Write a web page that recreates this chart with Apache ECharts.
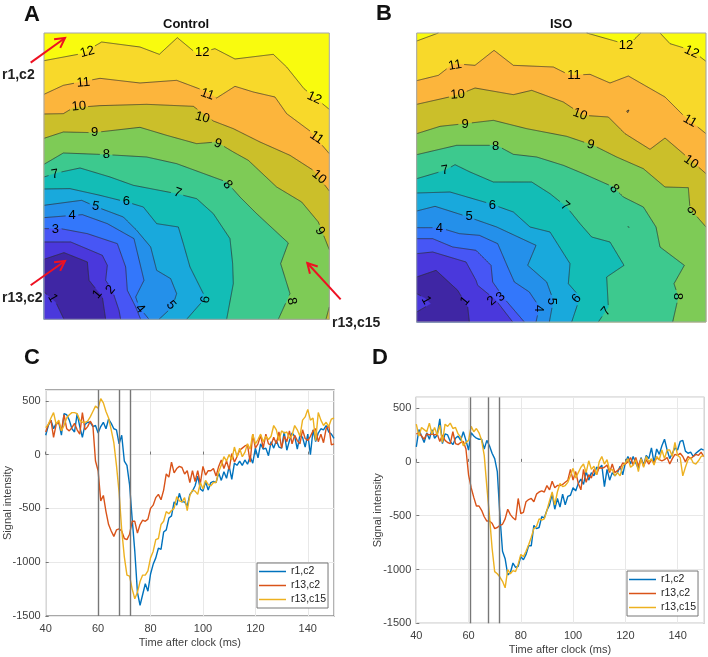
<!DOCTYPE html>
<html><head><meta charset="utf-8">
<script src="https://cdn.jsdelivr.net/npm/echarts@6/dist/echarts.min.js"></script>
<style>html,body{margin:0;padding:0;background:#fff}#c{width:708px;height:657px}</style>
</head><body><div id="c"></div>
<script>
// ---------- Contour panel A (Control), coordinates are read-off positions on the map
const controlL12=[[132,181],[245,160],[305,125],[420,140],[478,162],[532,112],[590,160],[645,145],[705,176],[820,162],[860,200],[912,265],[988,327]];
const controlL11=[[132,282],[190,255],[300,234],[420,248],[530,240],[610,270],[650,293],[705,258],[760,275],[825,290],[860,340],[930,392],[988,460]];
const controlL10=[[132,341],[190,340],[220,322],[300,316],[440,312],[580,318],[640,362],[700,385],[780,425],[870,465],[940,510],[988,572]];
const controlL9=[[132,414],[190,395],[280,397],[420,381],[500,405],[590,430],[650,425],[700,455],[745,480],[830,560],[905,605],[955,665],[988,748],[988,920],[978,957]];
const controlL8=[[132,492],[190,458],[320,463],[440,470],[530,490],[680,545],[720,590],[770,640],[865,728],[842,790],[870,880],[835,957]];
const controlL7=[[132,530],[170,518],[240,503],[330,530],[400,555],[530,580],[590,595],[640,640],[690,715],[698,790],[700,850],[680,957]];
const controlL6=[[132,566],[210,565],[300,585],[380,605],[430,620],[470,670],[535,680],[550,730],[570,800],[610,880],[610,900],[560,957]];
const controlL5=[[132,615],[245,600],[290,620],[370,650],[410,690],[452,740],[470,810],[512,835],[530,880],[517,920],[477,957]];
const controlL4=[[132,652],[247,643],[322,670],[402,715],[432,840],[407,890],[417,920],[447,957]];
const controlL3=[[132,685],[182,685],[262,700],[352,730],[377,800],[382,870],[407,920],[422,957]];
const controlL2=[[132,725],[212,725],[307,765],[322,795],[317,840],[337,870],[357,930],[362,957]];
const controlL1=[[132,777],[192,757],[262,785],[267,840],[307,890],[317,957],[192,957],[167,905],[132,875]];
const controlLabels=[[12,262,155,15],[12,607,155,0],[12,943,293,-25],[11,250,247,5],[11,622,282,-20],[11,950,412,-35],[10,237,318,5],[10,607,352,-15],[10,957,530,-40],[9,284,397,0],[9,654,430,-20],[9,960,692,-60],[8,319,463,0],[8,683,553,-50],[8,875,903,-80],[7,165,522,10],[7,533,578,-20],[6,379,604,0],[6,617,898,80],[5,287,618,-10],[5,513,915,-50],[4,216,645,0],[4,420,925,-50],[3,166,687,0],[2,332,868,50],[1,158,893,-60],[1,292,882,50]];
// ---------- Contour panel B (ISO)
const isoL12=[[200,122],[265,98],[710,98],[805,125],[845,125],[872,98],[930,98],[960,130],[1025,150],[1068,183]];
const isoL11=[[200,241],[265,225],[310,190],[375,195],[432,150],[490,195],[610,200],[660,225],[720,222],[780,248],[835,227],[945,290],[1000,345],[1068,400]];
const isoL10=[[200,312],[320,285],[375,263],[490,283],[545,270],[640,305],[700,345],[775,350],[825,400],[900,447],[945,413],[1000,460],[1068,520]];
const isoL9=[[200,400],[270,378],[345,370],[430,360],[530,385],[650,408],[730,435],[800,470],[880,505],[945,560],[1015,562],[1020,625],[1068,680]];
const isoL8=[[200,463],[320,435],[440,435],[490,462],[560,470],[640,495],[700,520],[790,560],[820,590],[880,620],[918,680],[930,740],[1003,795],[972,850],[985,890],[968,965]];
const isoL7=[[200,535],[285,510],[315,493],[360,515],[430,545],[545,545],[600,580],[650,620],[690,670],[725,710],[780,725],[822,795],[770,830],[775,920],[745,965]];
const isoL6=[[200,578],[300,575],[420,610],[490,635],[540,680],[600,695],[660,790],[655,850],[690,890],[665,965]];
const isoL5=[[200,632],[255,618],[340,645],[440,680],[558,735],[533,795],[590,845],[610,900],[598,965]];
const isoL4=[[200,682],[268,682],[328,700],[388,705],[443,730],[473,800],[493,845],[538,875],[568,920],[558,965]];
const isoL3=[[200,715],[248,715],[308,740],[378,750],[423,795],[428,845],[463,895],[523,965]];
const isoL2=[[200,760],[248,755],[348,785],[378,840],[383,855],[438,900],[488,965]];
const isoL1=[[200,830],[258,810],[323,870],[353,920],[358,965],[200,965],[200,935],[243,910],[225,893],[200,880]];
const isoSpotA=[[830,332],[837,329],[840,334],[833,337],[830,332]];
const isoSpotB=[[833,679],[837,678],[838,681],[834,682],[833,679]];
const isoLabels=[[12,828,135,0],[12,1025,155,-25],[11,315,195,10],[11,672,225,0],[11,1020,362,-30],[10,323,283,5],[10,690,342,-20],[10,1023,485,-35],[9,345,371,0],[9,722,433,-15],[9,1028,633,50],[8,437,437,0],[8,793,565,-50],[8,982,888,-90],[7,285,510,10],[7,645,617,-40],[7,768,933,50],[6,427,615,0],[6,680,895,50],[5,357,647,0],[5,605,903,-90],[4,268,683,0],[4,565,925,-90],[3,452,890,40],[2,425,902,40],[1,228,900,-60],[1,345,902,50]];
const levels=[12,11,10,9,8,7,6,5,4,3,2,1];
const bandColors=['#f8d92a','#fcb53c','#cbbf2a','#7ecb56','#3dc98e','#13bdb6','#19a9dc','#2490ea','#3377fb','#4756f5','#4a38dc','#3f26a4'];
const topColor='#f9fb0e';
// ---------- Signal traces, 40..150 ms
const timeStart=40;
const ctrlR1C2=[180,270,320,240,290,300,180,380,370,320,240,210,380,260,160,280,300,300,260,270,200,260,300,240,330,290,240,230,100,180,-60,-100,-280,-600,-900,-1280,-1400,-1300,-1200,-1270,-1110,-1020,-960,-870,-880,-720,-700,-590,-570,-440,-470,-360,-440,-440,-480,-370,-340,-290,-200,-320,-340,-250,-330,-260,-250,-260,-170,-240,-160,-220,-110,-230,-80,-100,-60,-100,-50,-90,-20,-80,60,-30,100,50,60,-10,120,60,130,70,60,210,40,130,200,170,50,180,160,70,190,0,230,120,200,240,230,270,210,190,150];
const ctrlR13C2=[210,280,320,160,280,300,220,370,240,220,250,290,230,190,390,230,260,310,270,-60,-150,-430,-380,-530,-650,-710,-760,-700,-690,-710,-780,-790,-740,-620,-620,-730,-650,-610,-620,-600,-500,-470,-400,-370,-420,-330,-180,-210,-70,-170,-130,-110,-120,-180,-150,-260,-150,-250,-150,-270,-110,-190,-150,-150,-130,-200,-110,-50,-130,-60,-140,10,-70,-20,40,60,80,90,-70,190,60,100,180,60,190,100,90,160,100,210,60,170,120,220,100,180,130,100,230,150,130,170,220,240,120,190,110,240,270,90,100];
const ctrlR13C15=[250,280,340,390,280,320,220,270,340,370,390,390,380,320,300,300,310,350,400,450,430,520,480,400,340,230,110,-100,-350,-700,-950,-1120,-1130,-1250,-1340,-1280,-1180,-1120,-1120,-1080,-960,-900,-790,-780,-650,-620,-530,-550,-520,-500,-390,-430,-440,-400,-520,-380,-330,-340,-370,-260,-320,-240,-280,-290,-260,-260,-160,-100,-20,-60,0,-50,70,-20,60,-20,20,100,50,190,100,140,190,120,170,140,170,270,230,130,220,200,210,150,180,270,230,170,320,350,420,320,340,130,390,320,270,300,260,330,340];
const isoR1C2=[140,300,240,180,270,210,300,220,250,400,170,260,250,190,160,220,240,200,280,200,110,270,240,220,210,210,120,200,150,80,30,-90,-500,-830,-900,-1050,-1030,-940,-980,-970,-880,-910,-860,-780,-780,-590,-620,-610,-510,-520,-450,-400,-300,-440,-340,-420,-300,-400,-320,-310,-240,-270,-200,-160,-210,-90,-170,-100,-130,-50,-60,-30,-230,-70,-170,-100,-130,-100,-40,-120,-10,50,-20,50,-10,-60,40,-30,60,30,130,-10,120,70,150,210,110,30,80,130,110,190,200,100,80,90,50,80,100,120,110];
const isoR13C2=[260,270,240,210,260,250,260,250,260,190,250,200,180,170,280,170,160,180,190,120,-120,-240,-330,-410,-410,-450,-510,-550,-550,-570,-620,-610,-590,-580,-530,-440,-490,-520,-540,-340,-480,-470,-370,-350,-340,-370,-300,-280,-270,-280,-220,-260,-180,-240,-220,-220,-210,-190,-170,-70,-170,-90,-200,-260,-70,-190,-120,-150,-70,-120,-50,-60,-50,-30,-100,-20,-100,-80,-60,-10,-20,0,40,-30,40,-40,30,-40,20,-20,20,-10,40,20,10,20,40,-20,30,70,60,80,50,0,50,30,50,70,60,90,50];
const isoR13C15=[350,240,320,300,280,360,260,320,250,340,180,350,330,360,310,320,260,230,150,180,200,330,280,310,270,200,60,-230,-500,-800,-1020,-1040,-1070,-1110,-1170,-1000,-1040,-1010,-1020,-950,-860,-880,-830,-770,-700,-620,-600,-530,-540,-530,-450,-360,-280,-400,-280,-200,-230,-220,-190,-130,-60,-150,-100,-50,-20,-100,10,-70,-40,-120,0,50,-20,20,-80,-70,-130,-100,-130,-40,-10,30,-50,-30,20,-90,30,-50,50,0,30,-30,50,20,110,30,110,110,50,180,60,40,-130,-50,20,40,-10,-20,10,50,60];
const ctrlMarkers=[60.1,68,72.3];
const isoMarkers=[60.7,67.6,71.8];
const traceNames=['r1,c2','r13,c2','r13,c15'];
const traceColors=['#0072bd','#d95319','#edb120'];
const arrowsA=[[[92,187],[195,113]],[[92,855],[195,782]],[[1022,897],[922,788]]];

const FF='"Liberation Sans",Arial,sans-serif';
const controlLevels=[controlL12,controlL11,controlL10,controlL9,controlL8,controlL7,controlL6,controlL5,controlL4,controlL3,controlL2,controlL1];
const isoLevels=[isoL12,isoL11,isoL10,isoL9,isoL8,isoL7,isoL6,isoL5,isoL4,isoL3,isoL2,isoL1];

function runs(px,gaps){ // split a pixel polyline where it crosses label gaps
  const out=[];let cur=[];
  const free=p=>gaps.every(g=>Math.hypot(p[0]-g[0],p[1]-g[1])>g[2]);
  for(let i=0;i<px.length-1;i++){
    const a=px[i],b=px[i+1],n=Math.max(1,Math.ceil(Math.hypot(b[0]-a[0],b[1]-a[1])));
    for(let k=0;k<=n;k++){
      const p=[a[0]+(b[0]-a[0])*k/n,a[1]+(b[1]-a[1])*k/n];
      if(free(p)){cur.push(p);}else if(cur.length){out.push(cur);cur=[];}
    }
  }
  if(cur.length)out.push(cur);
  return out;
}
function contourSeries(pts,level,color,labels,ax,bounds){
  const [xmin,xmax,ymin,ymax]=bounds;
  return {type:'custom',xAxisIndex:ax,yAxisIndex:ax,data:pts,encode:{x:0,y:1},silent:true,animation:false,
    renderItem(params,api){
      if(params.dataIndex!==0)return null;
      const px=pts.map(p=>api.coord(p));
      const last=pts[pts.length-1];
      const fillPts=px.slice();
      if(last[0]!==xmin){
        if(last[0]===xmax)fillPts.push(api.coord([xmax,ymax]));
        fillPts.push(api.coord([xmin,ymax]));
      }
      const gaps=labels.filter(l=>l[0]===level).map(l=>{const c=api.coord([l[1],l[2]]);return [c[0],c[1],l[0]>9?9:6];});
      const children=[{type:'polygon',shape:{points:fillPts},style:{fill:color,stroke:color,lineWidth:.3}}];
      let seg=[];const flush=()=>{if(seg.length>1)runs(seg,gaps).forEach(r=>{if(r.length>1)children.push({type:'polyline',shape:{points:r},style:{stroke:'#2c2c2c',fill:null,lineWidth:.8,opacity:.85}});});seg=[];};
      for(let i=0;i<pts.length;i++){
        seg.push(px[i]);
        if(i<pts.length-1){
          const a=pts[i],b=pts[i+1];
          const edge=(a[0]===b[0]&&(a[0]===xmin||a[0]===xmax))||(a[1]===b[1]&&(a[1]===ymin||a[1]===ymax));
          if(edge)flush();
        }
      }
      flush();
      return {type:'group',children};
    }};
}
function labelSeries(labels,ax){
  return {type:'scatter',xAxisIndex:ax,yAxisIndex:ax,symbolSize:1,itemStyle:{color:'rgba(0,0,0,0)'},silent:true,animation:false,z:5,
    data:labels.map(l=>({value:[l[1],l[2]],label:{rotate:l[3],formatter:String(l[0])}})),
    label:{show:true,position:'inside',fontFamily:FF,fontSize:13,color:'#000',textBorderWidth:0,opacity:1},labelLayout:{hideOverlap:false}};
}
function frameSeries(ax,arrows){
  return {type:'custom',xAxisIndex:ax,yAxisIndex:ax,data:[[0,0]],silent:true,animation:false,z:6,clip:false,encode:{x:0,y:1},
    renderItem(params,api){
      const cs=params.coordSys;
      const children=[{type:'rect',shape:{x:cs.x,y:cs.y,width:cs.width,height:cs.height},style:{fill:null,stroke:'#a3a3ad',lineWidth:1}}];
      arrows.forEach(a=>{
        const s=api.coord(a[0]),e=api.coord(a[1]);
        const ang=Math.atan2(e[1]-s[1],e[0]-s[0]),L=11;
        const b1=[e[0]-L*Math.cos(ang-.5),e[1]-L*Math.sin(ang-.5)],b2=[e[0]-L*Math.cos(ang+.5),e[1]-L*Math.sin(ang+.5)];
        const st={stroke:'#ee1122',fill:null,lineWidth:2};
        children.push({type:'polyline',shape:{points:[s,e]},style:st});
        children.push({type:'polyline',shape:{points:[b1,e,b2]},style:st});
      });
      return {type:'group',children};
    }};
}
function withTimes(v){return v.map((y,i)=>[timeStart+i,y]);}
function traceSeries(vals,ax,markers){
  return vals.map((v,i)=>{
    const s={type:'line',name:traceNames[i],xAxisIndex:ax,yAxisIndex:ax,data:withTimes(v),showSymbol:false,symbol:'none',
      lineStyle:{width:1.4,color:traceColors[i]},itemStyle:{color:traceColors[i]},animation:false,silent:true,z:3};
    if(i===0)s.markLine={silent:true,symbol:'none',animation:false,label:{show:false},lineStyle:{color:'#777',width:1.4,type:'solid'},data:markers.map(x=>({xAxis:x}))};
    return s;
  });
}
const mapAxis=(min,max,idx,inv)=>({type:'value',gridIndex:idx,min,max,show:false,inverse:!!inv,splitLine:{show:false}});
const plotX=idx=>({type:'value',gridIndex:idx,min:40,max:150,interval:20,name:'Time after clock (ms)',nameLocation:'middle',nameGap:21,nameMoveOverlap:false,
  nameTextStyle:{fontFamily:FF,fontSize:11,color:'#404040'},
  axisLine:{show:false},axisTick:{show:true,inside:true,length:3,lineStyle:{color:'#777'}},
  axisLabel:{fontFamily:FF,fontSize:11,color:'#404040',margin:7,showMaxLabel:false,formatter:v=>String(v)},
  splitLine:{show:true,lineStyle:{color:'#e8e8e8',width:1}}});
const plotY=(idx,gap)=>({type:'value',gridIndex:idx,min:-1500,max:600,interval:500,name:'Signal intensity',nameLocation:'middle',nameGap:gap,nameMoveOverlap:false,
  nameTextStyle:{fontFamily:FF,fontSize:11,color:'#404040'},
  axisLine:{show:false},axisTick:{show:true,inside:true,length:3,lineStyle:{color:'#777'}},
  axisLabel:{fontFamily:FF,fontSize:11,color:'#404040',margin:5,showMaxLabel:false,formatter:v=>String(v)},
  splitLine:{show:true,lineStyle:{color:'#e8e8e8',width:1}}});
const txt=(text,left,top,size,weight,color)=>({text,left,top,textStyle:{fontFamily:FF,fontSize:size,fontWeight:weight,color:color||'#111'},padding:0,itemGap:0});
const legendAt=(left,top)=>({left,top,orient:'vertical',data:traceNames,selectedMode:false,backgroundColor:'#fff',borderColor:'#777',borderWidth:1,borderRadius:0,padding:[3,2,3,2],
  icon:'rect',itemWidth:27,itemHeight:1.5,itemGap:3,textStyle:{fontFamily:FF,fontSize:10.5,color:'#222'}});

const boundsA=[132,988,98,957],boundsB=[200,1068,98,965];
const series=[];
levels.forEach((lv,i)=>series.push(contourSeries(controlLevels[i],lv,bandColors[i],controlLabels,0,boundsA)));
series.push(labelSeries(controlLabels,0),frameSeries(0,arrowsA));
levels.forEach((lv,i)=>series.push(contourSeries(isoLevels[i],lv,bandColors[i],isoLabels,1,boundsB)));
[isoSpotA,isoSpotB].forEach(s=>series.push({type:'line',xAxisIndex:1,yAxisIndex:1,data:s,symbol:'none',silent:true,animation:false,lineStyle:{color:'#2c2c2c',width:.8},z:4}));
series.push(labelSeries(isoLabels,1),frameSeries(1,[]));
series.push(...traceSeries([ctrlR1C2,ctrlR13C2,ctrlR13C15],2,ctrlMarkers));
series.push(...traceSeries([isoR1C2,isoR13C2,isoR13C15],3,isoMarkers));

const chart=echarts.init(document.getElementById('c'),null,{renderer:'canvas'});
chart.setOption({
  animation:false,backgroundColor:'#fff',
  title:[txt('A',24,4,22,'bold'),txt('B',376,3,22,'bold'),txt('C',24,347,22,'bold'),txt('D',372,347,22,'bold'),
    txt('Control',163,18,13,'bold'),txt('ISO',550,18,13,'bold'),
    txt('r1,c2',2,68,14,'bold','#222'),txt('r13,c2',2,291,14,'bold','#222'),txt('r13,c15',332,316,14,'bold','#222')],
  grid:[
    {left:44,top:33,width:285.3,height:286.3,show:true,backgroundColor:topColor,borderWidth:0,outerBoundsMode:'none'},
    {left:416.7,top:33,width:289.3,height:289,show:true,backgroundColor:topColor,borderWidth:0,outerBoundsMode:'none'},
    {left:45.7,top:390,width:288.3,height:226,show:true,borderColor:'#8c8c8c',borderWidth:1.3,outerBoundsMode:'none'},
    {left:416.3,top:397.3,width:287.4,height:226,show:true,borderColor:'#8c8c8c',borderWidth:1.3,outerBoundsMode:'none'}
  ],
  xAxis:[mapAxis(132,988,0),mapAxis(200,1068,1),plotX(2),plotX(3)],
  yAxis:[mapAxis(98,957,0,true),mapAxis(98,965,1,true),plotY(2,32),plotY(3,33)],
  legend:[legendAt(257,563),legendAt(627,571)],
  series
});
</script></body></html>
